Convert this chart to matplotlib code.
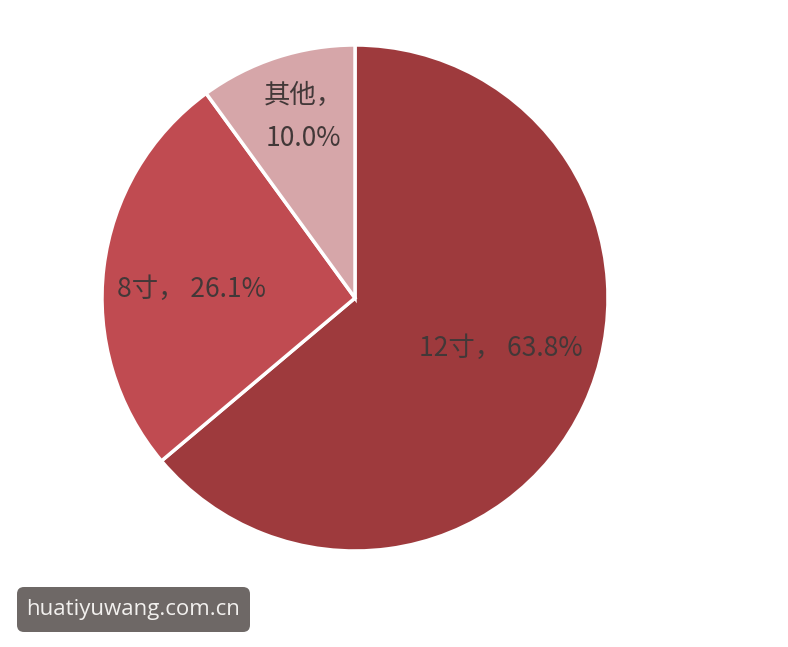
import matplotlib
matplotlib.use("Agg")
import matplotlib.pyplot as plt
from matplotlib.patches import FancyBboxPatch

plt.rcParams['font.family'] = ['Noto Sans CJK SC', 'DejaVu Sans']

# data
categories = ['12寸', '8寸', '其他']
shares = [63.8, 26.1, 10.0]
colors = ['#9e3a3d', '#c04b51', '#d6a6a9']

fig = plt.figure(figsize=(7.88, 6.47), dpi=100)
ax = fig.add_axes([0, 0, 1, 1])

ax.pie(shares, colors=colors, startangle=90, counterclock=False,
       center=(355, 349), radius=253,
       wedgeprops=dict(edgecolor='white', linewidth=2.5))

# pie() resets the view, so fix it afterwards
ax.set_aspect('auto')
ax.set_xlim(0, 788)
ax.set_ylim(0, 647)
ax.axis('off')

# labels
txt = dict(fontsize=19, color='#423838', ha='center', va='center')
ax.text(303, 530, '%s，\n%.1f%%' % (categories[2], shares[2]),
        linespacing=1.75, **txt)
ax.text(191, 358, '%s， %.1f%%' % (categories[1], shares[1]), **txt)
ax.text(501, 299, '%s， %.1f%%' % (categories[0], shares[0]), **txt)

# watermark
box = FancyBboxPatch((17, 15), 233, 45, boxstyle='round,pad=0,rounding_size=7',
                     facecolor='#6e6866', edgecolor='none')
ax.add_patch(box)
ax.text(133, 37, 'huatiyuwang.com.cn', fontsize=16, color='#f2f0ee',
        ha='center', va='center', family=['Open Sans', 'DejaVu Sans'])

fig.savefig('out.png', dpi=100)
